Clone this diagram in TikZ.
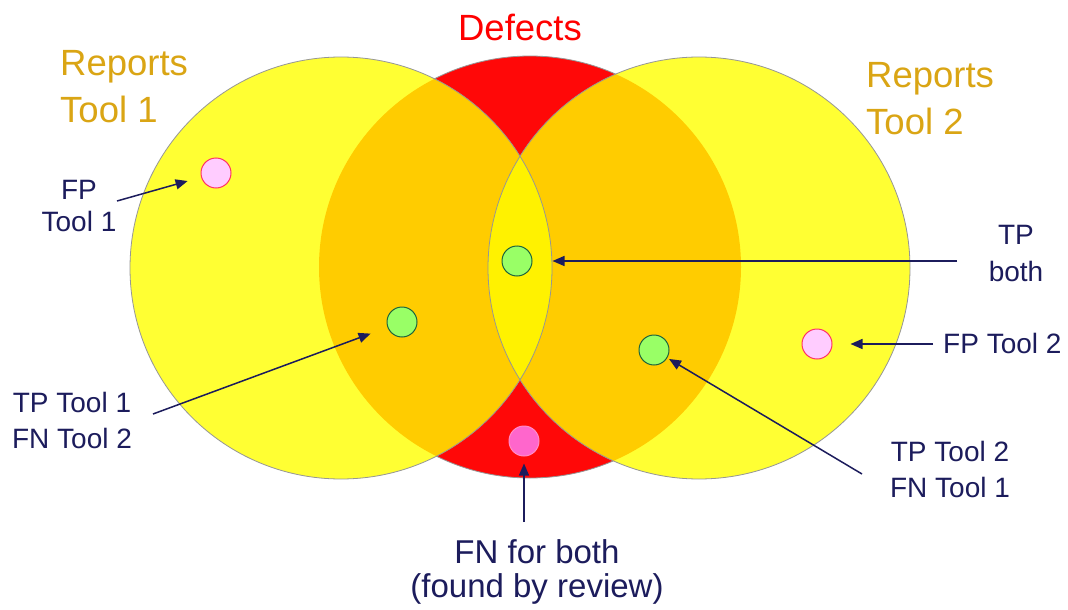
\documentclass[tikz,border=0pt]{standalone}
\usepackage{fontspec}
\setmainfont{Liberation Sans}
\usetikzlibrary{arrows.meta}
\definecolor{ylw}{RGB}{255,255,51}
\definecolor{org}{RGB}{255,204,0}
\definecolor{lensy}{RGB}{255,242,0}
\definecolor{dred}{RGB}{255,8,8}
\definecolor{navy}{RGB}{28,28,92}
\definecolor{gold}{RGB}{218,165,20}
\definecolor{gfill}{RGB}{153,255,102}
\definecolor{gline}{RGB}{30,100,60}
\definecolor{pfill}{RGB}{255,204,255}
\definecolor{pline}{RGB}{255,51,102}
\definecolor{mfill}{RGB}{255,102,204}
\definecolor{mline}{RGB}{255,140,200}
\definecolor{rim}{RGB}{150,150,150}
\begin{document}
\begin{tikzpicture}[x=1pt,y=-1pt,
  spot/.style={circle,minimum size=30pt,inner sep=0pt,line width=1pt},
  greenspot/.style={spot,draw=gline,fill=gfill},
  fpspot/.style={spot,draw=pline,fill=pfill},
  fnspot/.style={spot,draw=mline,fill=mfill},
  lbl/.style={inner sep=0pt,text=navy,align=center,font=\fontsize{28}{36}\selectfont},
  grouptitle/.style={inner sep=0pt,text=gold,align=left,font=\fontsize{36.5}{47}\selectfont},
  arr/.style={draw=navy,line width=1.5pt,-{Triangle[length=12pt,width=10pt]}},
  rimline/.style={draw=rim,line width=0.8pt}]
\useasboundingbox (0,0) rectangle (1068,610);
\fill[white] (0,0) rectangle (1068,610);
\coordinate (c1) at (341,268);
\coordinate (c2) at (699,268);
\coordinate (cd) at (530,267);
% circles
\fill[dred,rimline] (cd) circle[radius=211pt];
\fill[ylw] (c1) circle[radius=211pt];
\fill[ylw] (c2) circle[radius=211pt];
\begin{scope}
  \clip (cd) circle[radius=211pt];
  \fill[org] (c1) circle[radius=211pt];
  \fill[org] (c2) circle[radius=211pt];
  \clip (c1) circle[radius=211pt];
  \fill[lensy] (c2) circle[radius=211pt];
\end{scope}
\draw[rimline] (c1) circle[radius=211pt];
\draw[rimline] (c2) circle[radius=211pt];
% titles
\node[grouptitle,anchor=north west] (rep1) at (60,50) {Reports\\Tool 1};
\node[grouptitle,anchor=north west] (rep2) at (866,62) {Reports\\Tool 2};
\node[inner sep=0pt,text=red,font=\fontsize{36.5}{42}\selectfont,anchor=north] (def) at (520,14) {Defects};
% spots
\node[fpspot] (fp1) at (216,173) {};
\node[greenspot] (tpb) at (517,261) {};
\node[greenspot] (tp1) at (402,322) {};
\node[greenspot] (tp2) at (654,350) {};
\node[fnspot] (fnb) at (524,441) {};
\node[fpspot] (fp2) at (817,344) {};
% labels
\node[lbl,anchor=north,font=\fontsize{28}{32}\selectfont] (lfp1) at (79,180) {FP\\Tool 1};
\node[lbl,anchor=north,font=\fontsize{28}{37}\selectfont] (ltpb) at (1016,225) {TP\\both};
\node[lbl,anchor=base west] (lfp2) at (943,353) {FP Tool 2};
\node[lbl,anchor=north] (ltp2) at (950,441) {TP Tool 2\\FN Tool 1};
\node[lbl,anchor=north] (ltp1) at (72,392) {TP Tool 1\\FN Tool 2};
\node[lbl,anchor=north,font=\fontsize{33}{34}\selectfont] (lfnb) at (537,539) {FN for both\\(found by review)};
% arrow start points
\coordinate (sfp1) at (117,201);
\coordinate (stp1) at (153,414);
\coordinate (stpb) at (957,261);
\coordinate (sfp2) at (933,344);
\coordinate (stp2) at (862,474);
\coordinate (sfnb) at (524,522);
% arrows
\draw[arr,shorten >=14pt] (sfp1) -- (fp1);
\draw[arr,shorten >=18pt] (stp1) -- (tp1);
\draw[arr,shorten >=20pt] (stpb) -- (tpb);
\draw[arr,shorten >=18pt] (sfp2) -- (fp2);
\draw[arr,shorten >=2pt] (stp2) -- (tp2);
\draw[arr,shorten >=7pt] (sfnb) -- (fnb);
\end{tikzpicture}
\end{document}
